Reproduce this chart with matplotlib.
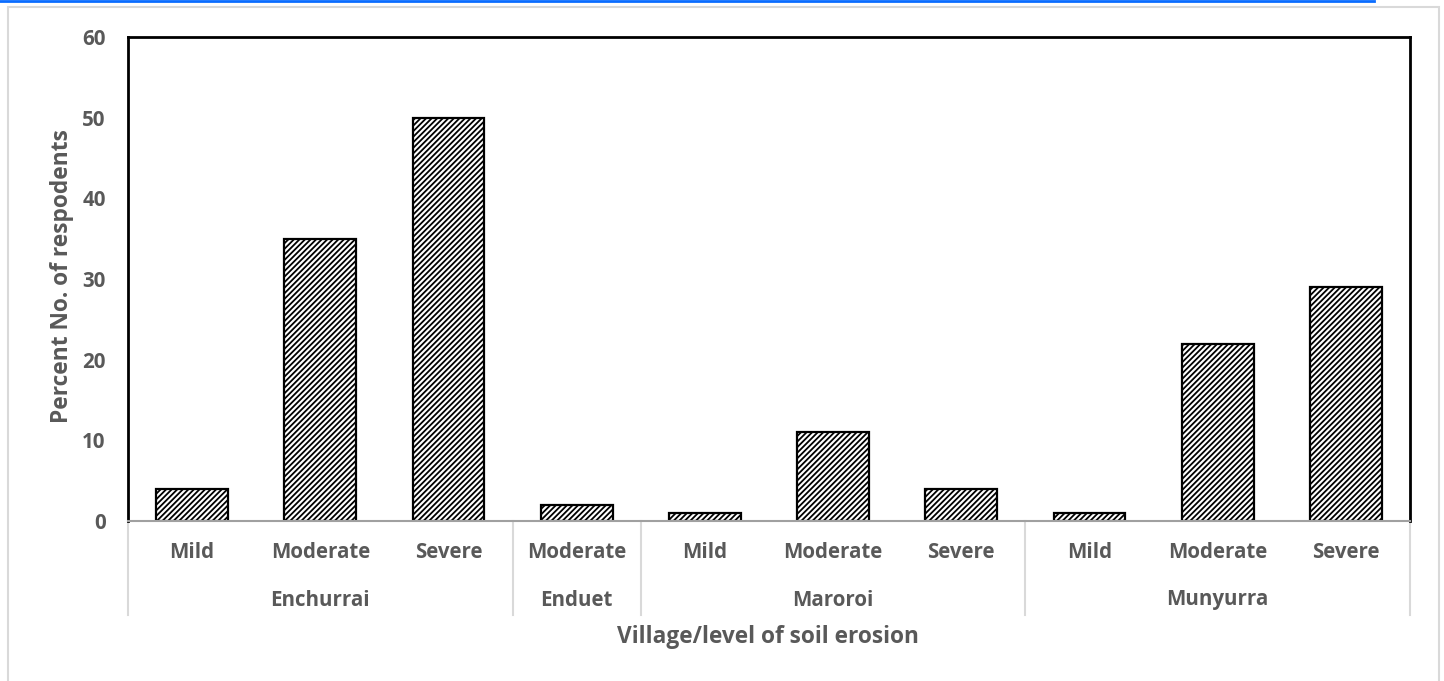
import matplotlib.pyplot as plt
from matplotlib.patches import Rectangle
from matplotlib.lines import Line2D

villages = ["Enchurrai", "Enduet", "Maroroi", "Munyurra"]
levels = [
    ["Mild", "Moderate", "Severe"],
    ["Moderate"],
    ["Mild", "Moderate", "Severe"],
    ["Mild", "Moderate", "Severe"],
]
percent = [
    [4, 35, 50],
    [2],
    [1, 11, 4],
    [1, 22, 29],
]

text_col = "#595959"
plt.rcParams["font.family"] = ["Open Sans", "DejaVu Sans"]
plt.rcParams["font.weight"] = "bold"
plt.rcParams["hatch.linewidth"] = 1.3
plt.rcParams["hatch.color"] = "#404040"

W, H = 1444, 681
fig = plt.figure(figsize=(W / 100, H / 100), dpi=100)
ax = fig.add_axes([128 / W, 1 - 521 / H, (1410 - 128) / W, (521 - 37) / H])

# flatten the village/level structure into one row of bars
labels, values, bounds = [], [], [-0.5]
for lv, vals in zip(levels, percent):
    labels += lv
    values += vals
    bounds.append(bounds[-1] + len(lv))
xs = list(range(len(values)))

ax.bar(xs, values, width=0.56, color="white", edgecolor="black",
       linewidth=1.6, hatch="//////", zorder=2)

ax.set_xlim(-0.5, len(values) - 0.5)
ax.set_ylim(0, 60)
ax.set_yticks(range(0, 61, 10))
ax.tick_params(axis="y", length=0, pad=16, labelsize=14.8, labelcolor=text_col)
ax.set_xticks([])
for s in ["left", "top", "right"]:
    ax.spines[s].set_linewidth(2)
    ax.spines[s].set_color("black")
ax.spines["bottom"].set_color("#a0a0a0")
ax.spines["bottom"].set_linewidth(1.5)
for t in ax.get_yticklabels():
    t.set_fontweight("bold")

# two-level category axis
trans = ax.get_xaxis_transform()
for x, lab in zip(xs, labels):
    ax.text(x, -31 / 484, lab, transform=trans, ha="center", va="center",
            fontsize=14.8, color=text_col, fontweight="bold")
for i, v in enumerate(villages):
    mid = (bounds[i] + bounds[i + 1]) / 2
    ax.text(mid, -79 / 484, v, transform=trans, ha="center", va="center",
            fontsize=14.8, color=text_col, fontweight="bold")
for b in bounds:
    ax.add_line(Line2D([b, b], [0, -94 / 484], transform=trans, color="#d9d9d9",
                       linewidth=1.5, clip_on=False))

fig.text(62 / W, 1 - 276 / H, "Percent No. of respodents", rotation=90,
         ha="center", va="center", fontsize=16.4, color=text_col, fontweight="bold")
fig.text(768 / W, 1 - 637 / H, "Village/level of soil erosion", ha="center",
         va="center", fontsize=16.3, color=text_col, fontweight="bold")

# chart frame and the blue rule above it
fig.patches.append(Rectangle((8 / W, -0.01), (1439 - 8) / W, 1 - 7 / H + 0.01,
                             transform=fig.transFigure, fill=False,
                             edgecolor="#d9d9d9", linewidth=1.5))
fig.add_artist(Line2D([0, 1374 / W], [1 - 1 / H, 1 - 1 / H],
                      transform=fig.transFigure, color="#0a6cff", linewidth=2))

fig.savefig("out.png", dpi=100)
